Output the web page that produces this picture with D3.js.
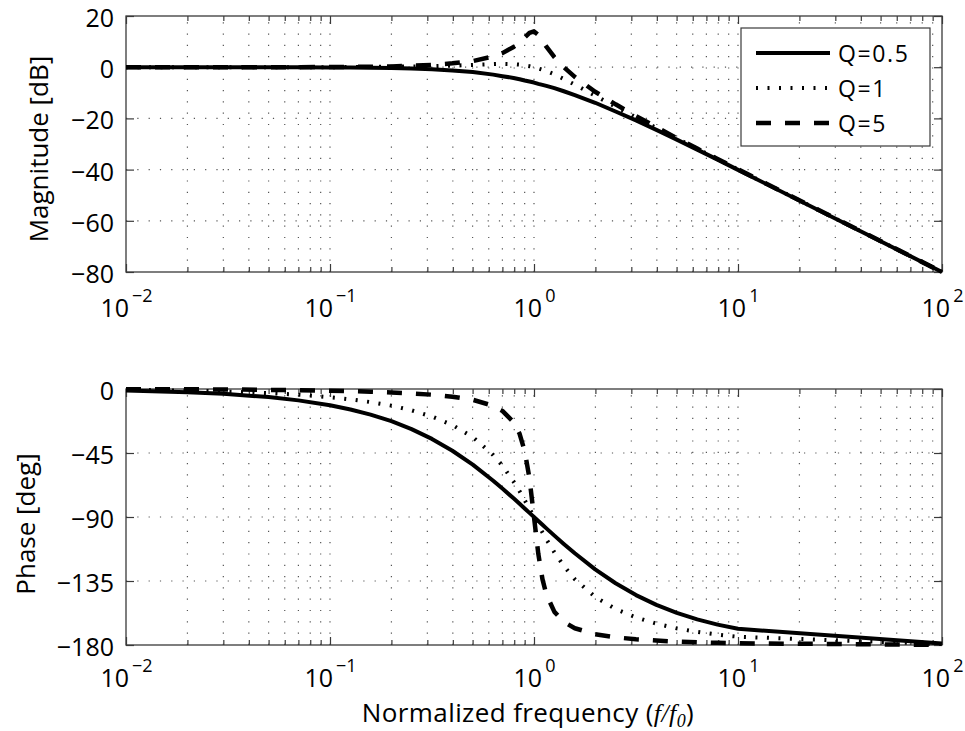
<!DOCTYPE html>
<html>
<head>
<meta charset="utf-8">
<script src="https://cdn.jsdelivr.net/npm/d3@7"></script>
<style>
  body { margin: 0; background: #fff; }
  text { font-family: "Open Sans", sans-serif; fill: #000; }
</style>
</head>
<body>
<svg id="chart" width="965" height="731"></svg>
<script>
// Normalized frequency samples (f/f0)
const freq = [0.01, 0.02, 0.03, 0.05, 0.07, 0.1, 0.126, 0.158, 0.2, 0.251, 0.316, 0.398, 0.501, 0.631, 0.7,
  0.794, 0.85, 0.9, 0.95, 1, 1.05, 1.1, 1.15, 1.259, 1.4, 1.585, 1.995, 2.512, 3.162, 3.981,
  5.012, 6.31, 7.943, 10, 100];

// Magnitude [dB] for each quality factor
const magQ05 = [0, 0, 0, 0, 0, -0.1, -0.1, -0.2, -0.3, -0.5, -0.8, -1.3, -1.9, -2.9, -3.5,
  -4.2, -4.7, -5.2, -5.6, -6.0, -6.5, -6.9, -7.3, -8.2, -9.4, -10.9, -13.9, -17.3, -20.8, -24.5,
  -28.3, -32.2, -36.1, -40.1, -80];
const magQ1 = [0, 0, 0, 0, 0, 0, 0.1, 0.1, 0.2, 0.3, 0.4, 0.6, 0.9, 1.2, 1.3,
  1.2, 1.0, 0.7, 0.4, 0, -0.5, -1.0, -1.5, -2.8, -4.6, -6.8, -11.1, -15.4, -19.6, -23.7,
  -27.8, -31.9, -35.9, -40.0, -80];
const magQ5 = [0, 0, 0, 0, 0, 0.1, 0.1, 0.2, 0.3, 0.6, 0.9, 1.5, 2.4, 4.2, 5.5,
  7.9, 9.8, 11.6, 13.4, 14.0, 12.6, 10.3, 8.0, 3.9, 0.0, -3.8, -9.6, -14.5, -19.1, -23.4,
  -27.7, -31.8, -35.9, -39.9, -80];

// Phase [deg] for each quality factor
const phaseQ05 = [-1.1, -2.3, -3.4, -5.7, -8.0, -11.4, -14.4, -18.0, -22.6, -28.2, -35.1, -43.4, -53.2, -64.5, -70.0,
  -76.9, -80.7, -84.0, -87.1, -90, -92.8, -95.5, -98.0, -103.1, -108.9, -115.5, -126.8, -136.6, -144.9, -151.8,
  -157.4, -162.0, -165.7, -168.6, -178.9];
const phaseQ1 = [-0.6, -1.1, -1.7, -2.9, -4.0, -5.8, -7.3, -9.2, -11.7, -15.0, -19.4, -25.3, -33.8, -46.4, -53.9,
  -65.1, -71.9, -78.1, -84.1, -90, -95.6, -100.8, -105.7, -114.9, -124.4, -133.7, -146.2, -154.7, -160.6, -165.0,
  -168.3, -170.8, -172.7, -174.2, -179.4];
const phaseQ5 = [-0.1, -0.2, -0.3, -0.6, -0.8, -1.2, -1.5, -1.9, -2.4, -3.1, -4.0, -5.4, -7.6, -11.8, -15.4,
  -23.3, -31.5, -43.5, -62.8, -90, -116.0, -133.7, -144.5, -156.7, -163.7, -168.2, -172.4, -174.6, -176.0, -176.9,
  -177.6, -178.1, -178.5, -178.8, -179.9];

const seriesNames = ["Q=0.5", "Q=1", "Q=5"];
const magTicks = [-80, -60, -40, -20, 0, 20];
const phaseTicks = [-180, -135, -90, -45, 0];
const decadeTicks = [1e-2, 1e-1, 1e0, 1e1, 1e2];
const decadeExponents = ["\u22122", "\u22121", "0", "1", "2"];

// ---- layout & styles ----
const L = 126, R = 942;
const lineStyles = [
  { width: 4, dash: null },
  { width: 4, dash: "2,9.5" },
  { width: 4.5, dash: "15,14" }
];
const frameColor = "#3a3a3a";
const tickFont = 25;

const svg = d3.select("#chart");
const x = d3.scaleLog().domain([1e-2, 1e2]).range([L, R]);

const minorTicks = [];
decadeTicks.slice(0, -1).forEach(d => { for (let m = 2; m <= 9; m++) minorTicks.push(m * d); });

const panels = [
  { top: 16, bottom: 272, domain: [-80, 20], ticks: magTicks, xLabelOffset: 45,
    series: [magQ05, magQ1, magQ5], label: "Magnitude [dB]", labelX: 48, labelY: 149 },
  { top: 389, bottom: 645, domain: [-180, 0], ticks: phaseTicks, xLabelOffset: 42,
    series: [phaseQ05, phaseQ1, phaseQ5], label: "Phase [deg]", labelX: 35, labelY: 524 }
];

panels.forEach((p, pi) => {
  const y = d3.scaleLinear().domain(p.domain).range([p.bottom, p.top]);
  const g = svg.append("g");

  // dotted grid
  const grid = g.append("g").attr("stroke", "#555").attr("stroke-width", 1.2)
    .attr("stroke-dasharray", "1.2,10.1");
  grid.selectAll("line.v").data(minorTicks.concat(decadeTicks.slice(1, -1))).join("line")
    .attr("x1", d => x(d)).attr("x2", d => x(d))
    .attr("y1", p.bottom).attr("y2", p.top);
  grid.selectAll("line.h").data(p.ticks.slice(1, -1)).join("line")
    .attr("x1", L).attr("x2", R)
    .attr("y1", d => y(d)).attr("y2", d => y(d));

  // frame
  g.append("rect").attr("x", L).attr("y", p.top)
    .attr("width", R - L).attr("height", p.bottom - p.top)
    .attr("fill", "none").attr("stroke", frameColor).attr("stroke-width", 1.3);

  const styleAxis = sel => {
    sel.select(".domain").remove();
    sel.selectAll(".tick line").attr("stroke", frameColor).attr("stroke-width", 1.2);
    sel.attr("font-family", "Open Sans, sans-serif").attr("font-size", tickFont);
  };

  // x axes (major + minor, bottom & top, ticks inward)
  const xb = g.append("g").attr("transform", `translate(0,${p.bottom})`)
    .call(d3.axisBottom(x).tickValues(decadeTicks).tickSizeInner(-8).tickSizeOuter(0).tickFormat(() => ""))
    .call(styleAxis);
  xb.selectAll(".tick text").each(function (d, i) {
    const t = d3.select(this).attr("y", p.xLabelOffset).attr("dy", null).attr("fill", "#000");
    t.append("tspan").text("10");
    t.append("tspan").attr("dx", 3).attr("dy", -15.5).attr("font-size", 18).text(decadeExponents[i]);
  });
  g.append("g").attr("transform", `translate(0,${p.bottom})`)
    .call(d3.axisBottom(x).tickValues(minorTicks).tickSizeInner(-5).tickSizeOuter(0).tickFormat(() => ""))
    .call(styleAxis);
  g.append("g").attr("transform", `translate(0,${p.top})`)
    .call(d3.axisTop(x).tickValues(decadeTicks).tickSizeInner(-8).tickSizeOuter(0).tickFormat(() => ""))
    .call(styleAxis);
  g.append("g").attr("transform", `translate(0,${p.top})`)
    .call(d3.axisTop(x).tickValues(minorTicks).tickSizeInner(-5).tickSizeOuter(0).tickFormat(() => ""))
    .call(styleAxis);

  // y axes (left labelled, right ticks only)
  const yl = g.append("g").attr("transform", `translate(${L},0)`)
    .call(d3.axisLeft(y).tickValues(p.ticks).tickSizeInner(-8).tickSizeOuter(0).tickPadding(12))
    .call(styleAxis);
  yl.selectAll(".tick text").attr("dy", "0.42em").attr("fill", "#000");
  g.append("g").attr("transform", `translate(${R},0)`)
    .call(d3.axisRight(y).tickValues(p.ticks).tickSizeInner(-8).tickSizeOuter(0).tickFormat(() => ""))
    .call(styleAxis);

  // y axis title
  g.append("text")
    .attr("transform", `translate(${p.labelX},${p.labelY}) rotate(-90)`)
    .attr("text-anchor", "middle").attr("font-size", 26)
    .text(p.label);

  // response curves
  const line = d3.line().x((d, i) => x(freq[i])).y(d => y(d));
  p.series.forEach((vals, si) => {
    const st = lineStyles[si];
    g.append("path").datum(vals)
      .attr("d", line)
      .attr("fill", "none").attr("stroke", "#000")
      .attr("stroke-width", st.width)
      .attr("stroke-linejoin", "round")
      .attr("stroke-dasharray", st.dash);
  });

  // legend in magnitude panel
  if (pi === 0) {
    const lg = g.append("g");
    lg.append("rect").attr("x", 741).attr("y", 28).attr("width", 189).attr("height", 118)
      .attr("fill", "#fff").attr("stroke", frameColor).attr("stroke-width", 1.2);
    seriesNames.forEach((name, si) => {
      const yy = 53 + si * 35;
      const st = lineStyles[si];
      lg.append("line").attr("x1", 756).attr("x2", 830).attr("y1", yy).attr("y2", yy)
        .attr("stroke", "#000").attr("stroke-width", st.width)
        .attr("stroke-dasharray", st.dash);
      lg.append("text").attr("x", 838).attr("y", yy + 8.5)
        .attr("font-size", 23).attr("letter-spacing", 1.6).text(name);
    });
  }
});

// shared x axis title
const xt = svg.append("text").attr("x", 528).attr("y", 722)
  .attr("text-anchor", "middle").attr("font-size", 26).attr("letter-spacing", 0.4);
xt.append("tspan").text("Normalized frequency (");
xt.append("tspan").attr("font-family", "Liberation Serif, serif").attr("font-style", "italic").text("f/f");
xt.append("tspan").attr("font-family", "Liberation Serif, serif").attr("font-style", "italic")
  .attr("font-size", 18).attr("dy", 5).text("0");
xt.append("tspan").attr("dy", -5).text(")");
</script>
</body>
</html>
